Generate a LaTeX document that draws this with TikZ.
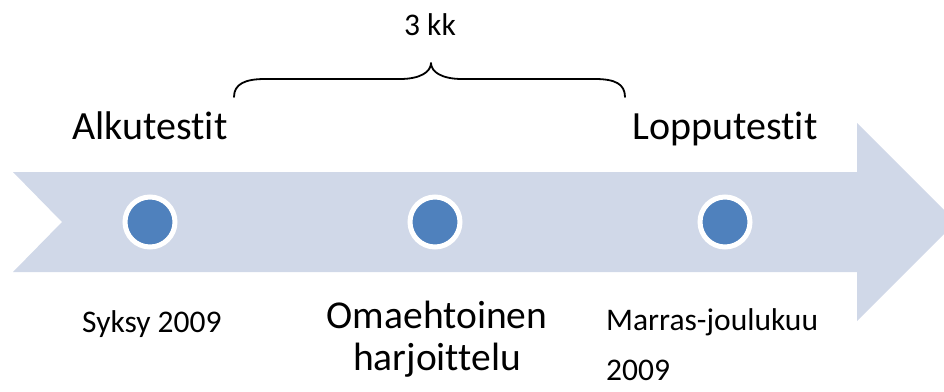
\documentclass[tikz,border=0pt]{standalone}
\usepackage{fontspec}
\setmainfont{Carlito}[Ligatures=NoCommon]
\begin{document}
\begin{tikzpicture}[x=1pt,y=-1pt,
  band/.style={fill=bandblue,draw=none},
  dot/.style={circle,fill=dotblue,draw=white,line width=5pt,minimum size=50pt,inner sep=0pt},
  bigtext/.style={font=\fontsize{40}{48}\selectfont,inner sep=0pt,anchor=base},
  smalltext/.style={font=\fontsize{31.5}{50}\selectfont,inner sep=0pt,align=left},
  midtext/.style={font=\fontsize{39.5}{42}\selectfont,inner sep=0pt,align=center},
  bracestyle/.style={line width=1.8pt,line cap=round,line join=round}]
\definecolor{bandblue}{HTML}{D0D8E8}
\definecolor{dotblue}{HTML}{4F81BD}
\useasboundingbox (0,0) rectangle (944,391);
\clip (0,0) rectangle (944,391);
% timeline arrow with notched tail
\fill[band] (13,172) -- (857,172) -- (857,123) -- (956,222) -- (857,321)
  -- (857,272) -- (13,272) -- (62,222) -- cycle;
% milestones
\node[dot] (d1) at (150,222) {};
\node[dot] (d2) at (435,222) {};
\node[dot] (d3) at (725,222) {};
% headings above the arrow
\node[bigtext] (start) at (150,139) {Alkutestit};
\node[bigtext] (end) at (725,139) {Lopputestit};
% brace spanning the training period
\coordinate (bl) at (234,97);
\coordinate (bm) at (431,63);
\coordinate (br) at (625,97);
\draw[bracestyle] (bl) .. controls (234,84) and (245,79) .. (265,79) -- (400,79)
  .. controls (420,79) and (431,72) .. (bm)
  .. controls (431,72) and (442,79) .. (462,79) -- (595,79)
  .. controls (615,79) and (625,84) .. (br);
\node[font=\fontsize{31.5}{38}\selectfont,inner sep=0pt,anchor=base] (dur) at (430,35) {3 kk};
% labels below the arrow (base anchor sits on the last line)
\node[smalltext,anchor=base west] (t1) at (82,332) {Syksy 2009};
\node[midtext,anchor=base] (t2) at (437,370) {Omaehtoinen\\harjoittelu};
\node[smalltext,anchor=base west] (t3) at (606,380) {Marras-joulukuu\\2009};
\end{tikzpicture}
\end{document}
